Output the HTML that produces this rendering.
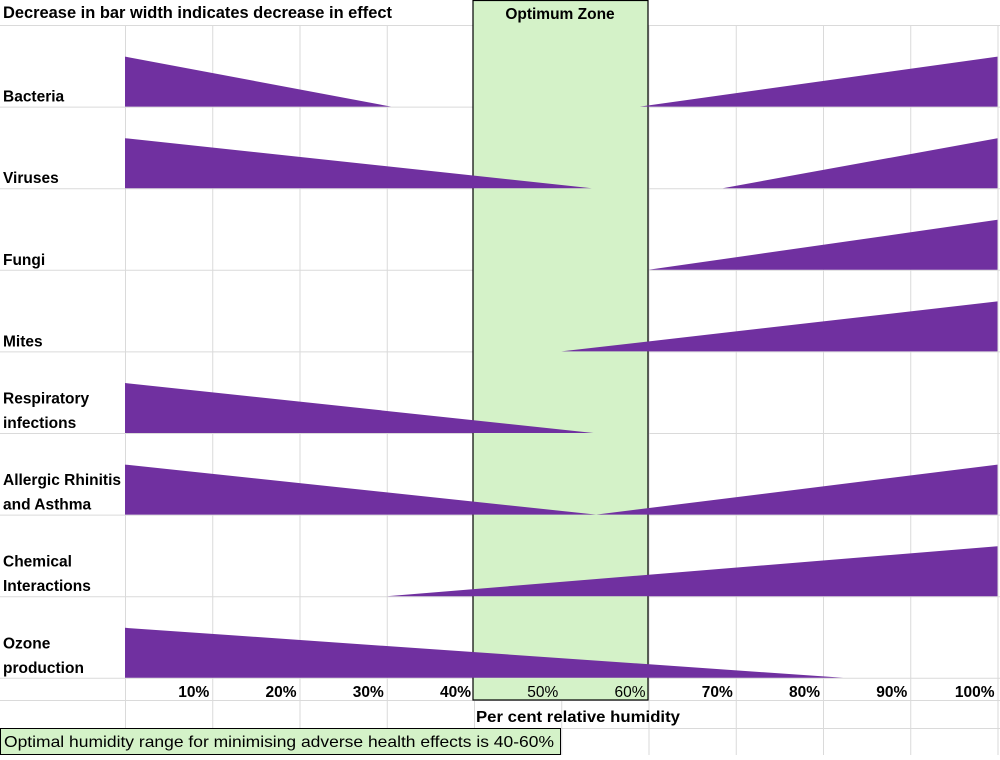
<!DOCTYPE html>
<html><head><meta charset="utf-8"><style>
body{margin:0;width:1000px;height:755px;overflow:hidden;background:#fff;font-family:"Liberation Sans",sans-serif}
svg text{font-family:"Liberation Sans",sans-serif}
</style></head><body>
<svg id="chart" width="1000" height="755">
<g id="grid"></g>
<rect x="473" y="0.5" width="175" height="699.5" fill="#d4f2c8" stroke="#000" stroke-width="1.2"/>
<g id="marks"></g>
<g id="labels"></g>
<text x="3" y="18" font-size="16.2" font-weight="bold" textLength="389" lengthAdjust="spacingAndGlyphs">Decrease in bar width indicates decrease in effect</text>
<text x="560" y="19" font-size="15.5" font-weight="bold" text-anchor="middle">Optimum Zone</text>
<text x="476" y="722" font-size="15.5" font-weight="bold" textLength="204" lengthAdjust="spacingAndGlyphs">Per cent relative humidity</text>
<rect x="0.5" y="728.5" width="560" height="26" fill="#d4f2c8" stroke="#000"/>
<text x="4" y="747" font-size="16" textLength="550" lengthAdjust="spacingAndGlyphs">Optimal humidity range for minimising adverse health effects is 40-60%</text>
</svg>
<script>
const categories=["Bacteria","Viruses","Fungi","Mites","Respiratory|infections","Allergic Rhinitis|and Asthma","Chemical|Interactions","Ozone|production"];
// left wedge: [start%, end%] tapering to the right; null if none
const leftWedges=[[0,30.5],[0,53.5],null,null,[0,53.7],[0,54],null,[0,82.3]];
// right wedge: [start%, end%] growing to the right
const rightWedges=[[59,100],[68.5,100],[60,100],[50,100],null,[54,100],[30,100],null];
const ticks=[10,20,30,40,50,60,70,80,90,100];
const X0=125,PX=87.25,TOP=25,ROWH=81.6,BARH=50;
const x=p=>X0+p*PX/10;
const rowBottom=i=>TOP+ROWH*(i+1);
const NS="http://www.w3.org/2000/svg";
function mk(tag,attrs,parent){const e=document.createElementNS(NS,tag);for(const k in attrs)e.setAttribute(k,attrs[k]);parent.appendChild(e);return e;}
const grid=document.getElementById('grid'),marks=document.getElementById('marks'),labels=document.getElementById('labels');
for(let i=-1;i<categories.length+2;i++){
  const y=i<categories.length?rowBottom(i):(i==categories.length?700:728);
  const l=mk('line',{x1:0,x2:1000,y1:y+0.5,y2:y+0.5,stroke:'#dadada'},grid);
  
  
}
for(let t=0;t<=100;t+=10){
  const l=mk('line',{x1:x(t)+0.5,x2:x(t)+0.5,y1:TOP,y2:755,stroke:'#dadada'},grid);
  
  
}
categories.forEach((c,i)=>{
  const yb=rowBottom(i);
  const lw=leftWedges[i];
  if(lw){const p=mk('polygon',{points:`${x(lw[0])},${yb-BARH} ${x(lw[1])},${yb} ${x(lw[0])},${yb}`,fill:'#7030a0'},marks);
    
    }
  const rw=rightWedges[i];
  if(rw){const p=mk('polygon',{points:`${x(rw[0])},${yb} ${x(rw[1])},${yb-BARH} ${x(rw[1])},${yb}`,fill:'#7030a0'},marks);
    
    }
  const lines=c.split('|');
  lines.forEach((s,j)=>{
    const t=mk('text',{x:3,y:yb-5-(lines.length-1-j)*24.5,'font-size':15.5,'font-weight':'bold'},labels);
    t.textContent=s;
    
    
  });
});
ticks.forEach(t=>{
  const inZone=t==50||t==60;
  const e=mk('text',{x:x(t)-3,y:697,'font-size':15.5,'font-weight':inZone?'normal':'bold','text-anchor':'end'},labels);
  e.textContent=t+'%';
  
  
});
</script>
</body></html>
